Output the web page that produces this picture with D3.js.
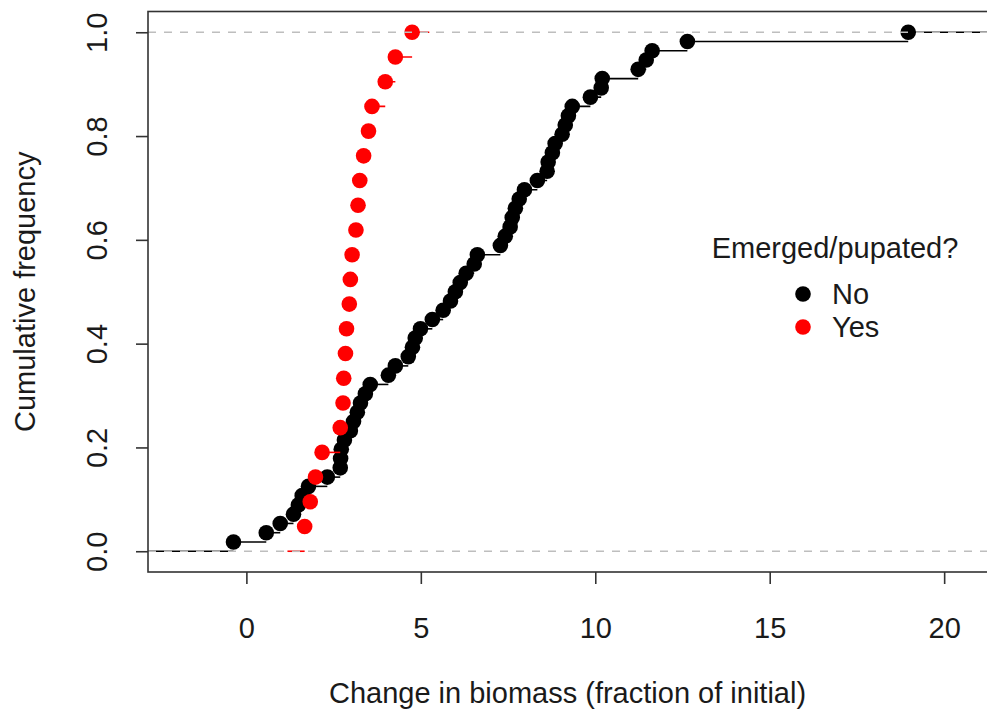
<!DOCTYPE html>
<html>
<head>
<meta charset="utf-8">
<script src="https://cdn.jsdelivr.net/npm/d3@7"></script>
<style>
  html, body { margin: 0; padding: 0; background: #fff; }
  svg { display: block; }
  text { font-family: "Liberation Sans", Arial, sans-serif; fill: #1a1a1a; }
</style>
</head>
<body>
<svg id="chart" width="987" height="713"></svg>
<script>
// ---- data (change in biomass, fraction of initial) ----
const groupNo = [
  -0.37, 0.57, 0.97, 1.35, 1.49, 1.60, 1.78, 2.32, 2.69, 2.70,
  2.72, 2.81, 2.98, 3.07, 3.18, 3.27, 3.41, 3.55, 4.07, 4.27,
  4.64, 4.76, 4.84, 4.99, 5.33, 5.64, 5.85, 5.99, 6.13, 6.30,
  6.53, 6.62, 7.28, 7.42, 7.56, 7.62, 7.71, 7.82, 7.97, 8.34,
  8.62, 8.65, 8.77, 8.85, 9.05, 9.14, 9.23, 9.34, 9.86, 10.17,
  10.20, 11.23, 11.46, 11.63, 12.64, 18.97
];
const groupYes = [
  1.67, 1.83, 1.98, 2.17, 2.69, 2.77, 2.79, 2.84, 2.87, 2.95,
  2.98, 3.03, 3.14, 3.20, 3.25, 3.36, 3.50, 3.60, 3.98, 4.27, 4.75
];
const xTicks = [0, 5, 10, 15, 20];
const yTicks = [0.0, 0.2, 0.4, 0.6, 0.8, 1.0];
const legendTitle = "Emerged/pupated?";
const legendLabels = ["No", "Yes"];
const colors = ["#000000", "#ff0000"];

const svg = d3.select("#chart");
const FS = 29;

// plot region (right edge falls just outside the picture, as in the reference)
const x = d3.scaleLinear().domain([-2.82, 21.4]).range([148, 993]);
const y = d3.scaleLinear().domain([-0.04, 1.04]).range([572, 11.5]);

const fmtY = d3.format(".1f");

// ecdf helper (R plot.stepfun style)
function ecdfSteps(vals, leftTail, rightTail) {
  const s = vals.slice().sort((a, b) => a - b);
  const n = s.length;
  const pts = s.map((v, i) => ({ x: v, y: (i + 1) / n }));
  const segs = [{ x0: leftTail, x1: s[0], y: 0 }];
  for (let i = 0; i < n; i++) {
    segs.push({ x0: s[i], x1: i < n - 1 ? s[i + 1] : rightTail, y: (i + 1) / n });
  }
  return { pts, segs };
}
function tails(vals) {
  const s = vals.slice().sort((a, b) => a - b);
  const rx = s[s.length - 1] - s[0];
  const diffs = s.slice(1).map((v, i) => v - s[i]);
  const dr = Math.max(0.08 * rx, d3.median(diffs));
  return [s[0] - 2 * dr, s[s.length - 1] + 2 * dr];
}

svg.append("defs").append("clipPath").attr("id", "plotclip")
  .append("rect").attr("x", x.range()[0]).attr("y", y.range()[1])
  .attr("width", x.range()[1] - x.range()[0]).attr("height", y.range()[0] - y.range()[1]);

const plot = svg.append("g").attr("clip-path", "url(#plotclip)");

[groupNo, groupYes].forEach((vals, gi) => {
  const [lt, rt] = gi === 0 ? [-10, 40] : tails(vals);
  const { pts, segs } = ecdfSteps(vals, lt, rt);
  plot.append("g").selectAll("line").data(segs).join("line")
    .attr("x1", d => x(d.x0)).attr("x2", d => x(d.x1))
    .attr("y1", d => y(d.y)).attr("y2", d => y(d.y))
    .attr("stroke", colors[gi]).attr("stroke-width", 1.6);
  plot.append("g").selectAll("circle").data(pts).join("circle")
    .attr("cx", d => x(d.x)).attr("cy", d => y(d.y))
    .attr("r", 7.8).attr("fill", colors[gi]);
});

// reference lines at 0 and 1
plot.append("g").selectAll("line").data([0, 1]).join("line")
  .attr("x1", x.range()[0]).attr("x2", x.range()[1])
  .attr("y1", d => y(d)).attr("y2", d => y(d))
  .attr("stroke", "#bebebe").attr("stroke-width", 1.6)
  .attr("stroke-dasharray", "8,8");

// box
svg.append("rect")
  .attr("x", x.range()[0]).attr("y", y.range()[1])
  .attr("width", x.range()[1] - x.range()[0]).attr("height", y.range()[0] - y.range()[1])
  .attr("fill", "none").attr("stroke", "#333").attr("stroke-width", 1.6);

// x axis
const xAxis = d3.axisBottom(x).tickValues(xTicks).tickSize(12).tickSizeOuter(0);
const gx = svg.append("g").attr("transform", `translate(0,${y.range()[0]})`).call(xAxis);
gx.select(".domain").remove();
gx.selectAll(".tick line").attr("stroke", "#333").attr("stroke-width", 1.6);
gx.selectAll(".tick text").attr("font-size", FS).attr("font-family", "Liberation Sans, Arial, sans-serif")
  .attr("fill", "#1a1a1a").attr("y", null).attr("dy", null)
  .attr("transform", "translate(0,56)").attr("dominant-baseline", "central");

// y axis
const yAxis = d3.axisLeft(y).tickValues(yTicks).tickFormat(fmtY).tickSize(12).tickSizeOuter(0);
const gy = svg.append("g").attr("transform", `translate(${x.range()[0]},0)`).call(yAxis);
gy.select(".domain").remove();
gy.selectAll(".tick line").attr("stroke", "#333").attr("stroke-width", 1.6);
gy.selectAll(".tick text").attr("font-size", FS).attr("font-family", "Liberation Sans, Arial, sans-serif")
  .attr("fill", "#1a1a1a").attr("x", null).attr("dy", null)
  .attr("text-anchor", "middle").attr("dominant-baseline", "central")
  .attr("transform", "translate(-51,0) rotate(-90)");

// axis titles
svg.append("text").attr("x", (x.range()[0] + x.range()[1]) / 2 - 3).attr("y", 693)
  .attr("text-anchor", "middle").attr("dominant-baseline", "central").attr("font-size", FS)
  .text("Change in biomass (fraction of initial)");
svg.append("text").attr("transform", `translate(25,${(y.range()[0] + y.range()[1]) / 2}) rotate(-90)`)
  .attr("text-anchor", "middle").attr("dominant-baseline", "central").attr("font-size", FS)
  .text("Cumulative frequency");

// legend
const lg = svg.append("g");
lg.append("text").attr("x", 835).attr("y", 248).attr("text-anchor", "middle")
  .attr("dominant-baseline", "central").attr("font-size", FS).text(legendTitle);
legendLabels.forEach((lab, i) => {
  lg.append("circle").attr("cx", 803).attr("cy", 294 + i * 33).attr("r", 7.8).attr("fill", colors[i]);
  lg.append("text").attr("x", 832).attr("y", 294 + i * 33).attr("dominant-baseline", "central")
    .attr("font-size", FS).text(lab);
});
</script>
</body>
</html>
